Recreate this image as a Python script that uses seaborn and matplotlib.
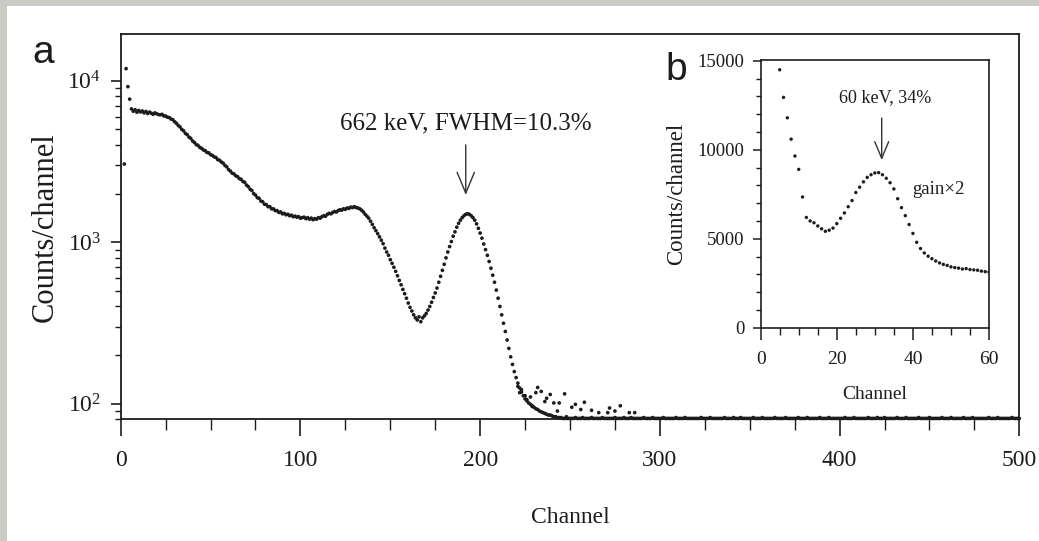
import numpy as np
import pandas as pd
import matplotlib
matplotlib.use("Agg")
import matplotlib.pyplot as plt
import seaborn as sns
from matplotlib.ticker import MultipleLocator, LogLocator, NullFormatter
from matplotlib.patches import Rectangle

# ---------------- data ----------------
# Panel a: counts per channel, first value is channel 2
main_start_channel = 2
main_counts = [
    3050, 11900, 9200, 7700, 6700, 6480, 6620, 6390, 6550, 6420,
    6500, 6330, 6460, 6280, 6400, 6300, 6200, 6330, 6250, 6180,
    6160, 6200, 6060, 6050, 5950, 5920, 5800, 5740, 5580, 5460,
    5290, 5180, 5000, 4900, 4720, 4640, 4480, 4400, 4240, 4150,
    4030, 3980, 3870, 3820, 3730, 3690, 3600, 3580, 3490, 3450,
    3380, 3350, 3250, 3220, 3140, 3090, 2990, 2930, 2820, 2760,
    2680, 2650, 2580, 2550, 2480, 2450, 2380, 2350, 2260, 2210,
    2130, 2090, 2000, 1960, 1890, 1870, 1800, 1780, 1720, 1710,
    1660, 1660, 1610, 1610, 1570, 1570, 1530, 1540, 1500, 1510,
    1480, 1490, 1460, 1470, 1440, 1450, 1430, 1440, 1410, 1420,
    1430, 1400, 1420, 1390, 1410, 1380, 1400, 1390, 1420, 1410,
    1440, 1460, 1450, 1490, 1510, 1500, 1530, 1550, 1540, 1570,
    1590, 1580, 1610, 1600, 1630, 1620, 1650, 1640, 1660, 1640,
    1630, 1610, 1580, 1540, 1490, 1450, 1410, 1350, 1290, 1230,
    1180, 1130, 1080, 1030, 980, 920, 870, 830, 780, 740,
    700, 660, 620, 580, 545, 510, 480, 450, 420, 395,
    375, 355, 340, 330, 345, 322, 340, 350, 362, 380,
    400, 425, 455, 485, 520, 565, 615, 670, 730, 800,
    870, 940, 1010, 1090, 1160, 1240, 1310, 1370, 1420, 1460,
    1490, 1500, 1490, 1460, 1420, 1370, 1300, 1220, 1140, 1060,
    975, 900, 830, 760, 690, 625, 565, 505, 450, 400,
    355, 315, 280, 248, 220, 195, 175, 158, 145, 134,
    125, 118, 112, 107, 104, 101, 99, 97, 95, 93,
    92, 90, 89, 88, 87, 86, 85, 85, 84, 83,
    83, 82, 82, 82, 81, 81, 81, 81, 81, 81,
]
# flat tail (channels 252 .. 500), sitting on the bottom axis
tail_counts = [
    81, 82, 81, 81, 81, 82, 81, 81, 81, 81,
    82, 81, 81, 81, 81, 81, 82, 81, 81, 81,
    81, 81, 81, 82, 81, 81, 81, 81, 82, 81,
    81, 81, 82, 81, 81, 81, 81, 81, 81, 82,
    81, 81, 81, 81, 82, 81, 81, 81, 81, 81,
    82, 81, 81, 81, 81, 81, 81, 82, 81, 81,
    81, 81, 82, 81, 81, 81, 81, 81, 81, 81,
    81, 82, 81, 81, 81, 81, 82, 81, 81, 81,
    81, 81, 81, 81, 82, 81, 81, 81, 81, 82,
    81, 81, 81, 82, 81, 81, 81, 81, 81, 81,
    82, 81, 81, 81, 81, 82, 81, 81, 81, 81,
    81, 81, 82, 81, 81, 81, 81, 81, 82, 81,
    81, 81, 81, 81, 81, 82, 81, 81, 81, 81,
    82, 81, 81, 81, 81, 81, 81, 82, 81, 81,
    81, 81, 82, 81, 81, 81, 81, 81, 81, 81,
    81, 82, 81, 81, 81, 81, 82, 81, 81, 81,
    81, 81, 81, 81, 82, 81, 81, 81, 81, 82,
    81, 81, 81, 82, 81, 81, 81, 81, 81, 81,
    82, 81, 81, 81, 81, 82, 81, 81, 81, 81,
    81, 81, 82, 81, 81, 81, 81, 81, 82, 81,
    81, 81, 81, 81, 81, 82, 81, 81, 81, 81,
    82, 81, 81, 81, 81, 81, 81, 82, 81, 81,
    81, 81, 82, 81, 81, 81, 81, 81, 81, 81,
    81, 82, 81, 81, 81, 81, 82, 81, 81, 81,
    81, 81, 81, 81, 82, 81, 81, 81, 81,
]
# scattered points above the tail
scatter_channels = [221, 222, 223, 225, 226, 228, 229, 231, 232, 234, 236,
                    237, 239, 241, 243, 244, 247, 248, 251, 253, 256, 258,
                    262, 266, 271, 272, 275, 278, 283, 286]
scatter_counts = [128, 117, 122, 112, 106, 110, 96, 117, 126, 119, 103,
                  108, 114, 101, 90, 101, 115, 83, 95, 99, 92, 102,
                  91, 88, 88, 94, 90, 97, 88, 88]

# Panel b (inset): counts per channel, first value is channel 5
inset_start_channel = 5
inset_counts = [
    14500, 12950, 11800, 10600, 9650, 8900, 7350, 6200, 6000, 5900,
    5720, 5560, 5420, 5480, 5600, 5850, 6150, 6450, 6800, 7150,
    7600, 7900, 8200, 8450, 8600, 8700, 8720, 8600, 8400, 8150,
    7800, 7250, 6750, 6300, 5800, 5300, 4800, 4450, 4200, 4020,
    3880, 3750, 3640, 3560, 3500, 3420, 3380, 3350, 3300, 3320,
    3270, 3250, 3230, 3180, 3150, 3130,
]

main_annotation = "662 keV, FWHM=10.3%"
inset_annotation = "60 keV, 34%"
inset_note = "gain\u00d72"

# ---------------- style ----------------
sns.set_style("ticks")
plt.rcParams['font.family'] = ['Liberation Serif', 'DejaVu Serif']
plt.rcParams['mathtext.fontset'] = 'custom'
plt.rcParams['mathtext.rm'] = 'Liberation Serif'
plt.rcParams['mathtext.it'] = 'Liberation Serif:italic'
plt.rcParams['mathtext.bf'] = 'Liberation Serif:bold'
ink = '#1c1c1c'
for k in ['text.color', 'axes.labelcolor', 'xtick.color', 'ytick.color', 'axes.edgecolor']:
    plt.rcParams[k] = ink

W, H = 1039, 541
fig = plt.figure(figsize=(W / 100, H / 100), dpi=100)
fig.patch.set_facecolor('#cbcbc5')
fig.add_artist(Rectangle((7 / W, 0), 1, 1 - 6 / H, transform=fig.transFigure,
                         facecolor='white', edgecolor='none', zorder=-10))

# ---------------- panel a ----------------
ax = fig.add_axes([120.7 / W, 1 - 419.3 / H, (1019.3 - 120.7) / W, (419.3 - 34) / H])
all_counts = main_counts + tail_counts
df = pd.DataFrame({
    'channel': np.arange(main_start_channel, main_start_channel + len(all_counts)),
    'counts': all_counts,
})
sdf = pd.DataFrame({'channel': scatter_channels, 'counts': scatter_counts})
sns.scatterplot(data=df, x='channel', y='counts', ax=ax, s=7, color=ink,
                linewidth=0, edgecolor='none', clip_on=False)
sns.scatterplot(data=sdf, x='channel', y='counts', ax=ax, s=7, color=ink,
                linewidth=0, edgecolor='none')
ax.set_yscale('log')
ax.set_xlim(0, 500)
ax.set_ylim(80, 19500)
ax.xaxis.set_major_locator(MultipleLocator(100))
ax.xaxis.set_minor_locator(MultipleLocator(25))
ax.yaxis.set_major_locator(LogLocator(base=10, numticks=10))
ax.yaxis.set_minor_locator(LogLocator(base=10, subs=np.arange(2, 10), numticks=30))
ax.yaxis.set_minor_formatter(NullFormatter())
ax.tick_params(axis='x', which='major', length=12, width=1.2, pad=10, labelsize=17)
ax.tick_params(axis='x', which='minor', length=8, width=1.0)
ax.tick_params(axis='y', which='major', length=7, width=1.2, pad=7, labelsize=17)
ax.tick_params(axis='y', which='minor', length=4.5, width=1.0)
for sp in ax.spines.values():
    sp.set_visible(True)
    sp.set_linewidth(1.3)
ax.set_xlabel('Channel', fontsize=17)
ax.xaxis.label.set_va('center')
ax.xaxis.set_label_coords(0.5, -0.256)
ax.set_ylabel('Counts/channel', fontsize=22)
ax.yaxis.label.set_va('center')
ax.yaxis.set_label_coords(-0.0837, 0.5)

ax.annotate('', xy=(192, 1963), xytext=(192, 4010),
            arrowprops=dict(arrowstyle='->, head_length=0.6, head_width=0.25',
                            color='#333333', lw=1.0, mutation_scale=25,
                            shrinkA=0, shrinkB=0))
ax.text(192, 5410, main_annotation, ha='center', va='center', fontsize=18)

# ---------------- panel b (inset) ----------------
ax2 = fig.add_axes([760.7 / W, 1 - 327.7 / H, 228.3 / W, 267.7 / H])
idf = pd.DataFrame({
    'channel': np.arange(inset_start_channel, inset_start_channel + len(inset_counts)),
    'counts': inset_counts,
})
sns.scatterplot(data=idf, x='channel', y='counts', ax=ax2, s=6, color=ink,
                linewidth=0, edgecolor='none')
ax2.set_xlim(0, 60)
ax2.set_ylim(0, 15050)
ax2.xaxis.set_major_locator(MultipleLocator(20))
ax2.xaxis.set_minor_locator(MultipleLocator(5))
ax2.yaxis.set_major_locator(MultipleLocator(5000))
ax2.yaxis.set_minor_locator(MultipleLocator(1000))
ax2.tick_params(axis='x', which='major', length=8.5, width=1.1, pad=8, labelsize=14)
ax2.tick_params(axis='x', which='minor', length=5, width=1.0)
ax2.tick_params(axis='y', which='major', length=6, width=1.1, pad=5.5, labelsize=13.5)
ax2.tick_params(axis='y', which='minor', length=3.5, width=1.0)
for sp in ax2.spines.values():
    sp.set_visible(True)
    sp.set_linewidth(1.2)
ax2.set_xlabel('Channel', fontsize=14)
ax2.xaxis.label.set_va('center')
ax2.xaxis.set_label_coords(0.5, -0.2514)
ax2.set_ylabel('Counts/channel', fontsize=16.5)
ax2.yaxis.label.set_va('center')
ax2.yaxis.set_label_coords(-0.369, 0.5)

ax2.annotate('', xy=(31.8, 9420), xytext=(31.8, 11790),
             arrowprops=dict(arrowstyle='->, head_length=0.6, head_width=0.25',
                             color='#333333', lw=1.0, mutation_scale=20,
                             shrinkA=0, shrinkB=0))
ax2.text(32.7, 12940, inset_annotation, ha='center', va='center', fontsize=13)
ax2.text(46.6, 7780, inset_note, ha='center', va='center', fontsize=13.5)

# panel letters
fig.text(43 / W, 1 - 63 / H, 'a', family='Liberation Sans', fontsize=28,
         ha='center', va='baseline', color=ink)
fig.text(676 / W, 1 - 80 / H, 'b', family='Liberation Sans', fontsize=28,
         ha='center', va='baseline', color=ink)

fig.savefig('out.png', dpi=100, facecolor=fig.get_facecolor())
